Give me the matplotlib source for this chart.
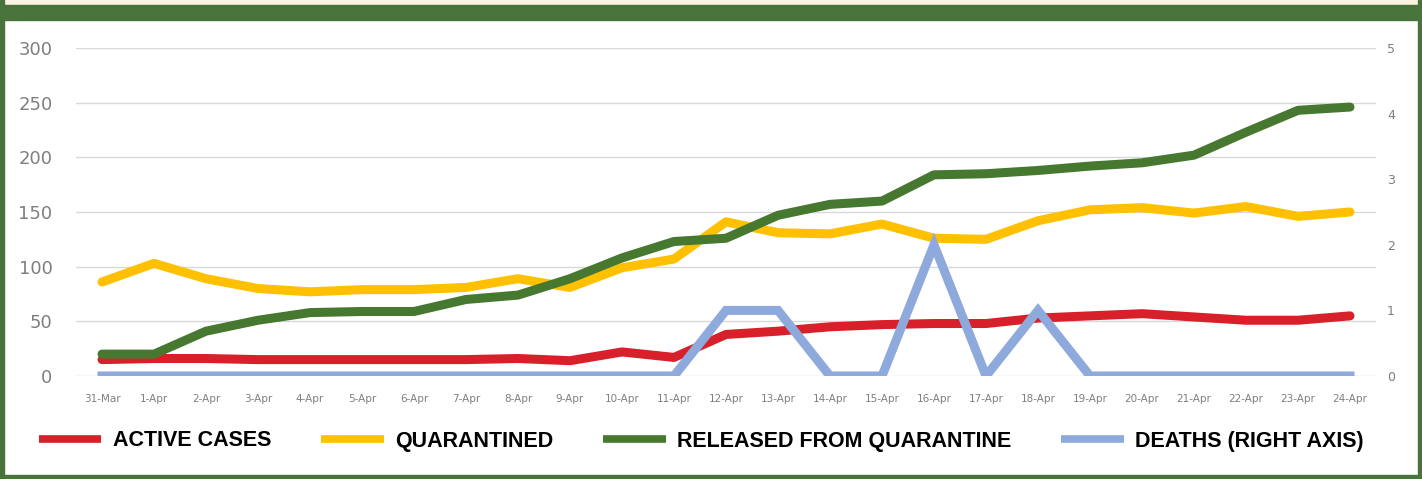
import numpy as np
import matplotlib.pyplot as plt
from matplotlib.patches import Rectangle

dates = ['31-Mar', '1-Apr', '2-Apr', '3-Apr', '4-Apr', '5-Apr', '6-Apr', '7-Apr', '8-Apr',
         '9-Apr', '10-Apr', '11-Apr', '12-Apr', '13-Apr', '14-Apr', '15-Apr', '16-Apr',
         '17-Apr', '18-Apr', '19-Apr', '20-Apr', '21-Apr', '22-Apr', '23-Apr', '24-Apr']
active = [15, 16, 16, 15, 15, 15, 15, 15, 16, 14, 22, 17, 38, 41, 45, 47, 48,
          48, 53, 55, 57, 54, 51, 51, 55]
quarantined = [86, 103, 89, 80, 77, 79, 79, 81, 89, 81, 99, 107, 141, 131, 130, 139, 126,
               125, 142, 152, 154, 149, 155, 146, 150]
released = [20, 20, 41, 51, 58, 59, 59, 70, 74, 89, 108, 123, 126, 147, 157, 160, 184,
            185, 188, 192, 195, 202, 223, 243, 246]
deaths = [0, 0, 0, 0, 0, 0, 0, 0, 0, 0, 0, 0, 1, 1, 0, 0, 2, 0, 1, 0, 0, 0, 0, 0, 0]

RED = '#D7202A'
YELLOW = '#FFC000'
GREEN = '#47782F'
BLUE = '#8EA9DB'
FRAME = '#48733A'

W, H = 1422, 479
fig = plt.figure(figsize=(W / 100, H / 100), dpi=100)
fig.patch.set_facecolor('white')

# frame
fig.add_artist(Rectangle((0, (H - 5) / H), 1, 5 / H, transform=fig.transFigure,
                         color='#FDF3E2', zorder=0))
fig.add_artist(Rectangle((0, (H - 20) / H), 1, 15 / H, transform=fig.transFigure,
                         color=FRAME, zorder=0))
fig.add_artist(Rectangle((0, 0), 4 / W, 1, transform=fig.transFigure, color=FRAME, zorder=0))
fig.add_artist(Rectangle(((W - 4) / W, 0), 4 / W, 1, transform=fig.transFigure, color=FRAME, zorder=0))
fig.add_artist(Rectangle((0, 0), 1, 4 / H, transform=fig.transFigure, color=FRAME, zorder=0))

ax = fig.add_axes([76 / W, (H - 376) / H, 1300 / W, 328 / H])
x = np.arange(len(dates))
lw = 6.5
ax.plot(x, active, color=RED, lw=lw, solid_joinstyle='round', solid_capstyle='round',
        label='ACTIVE CASES', zorder=3)
ax.plot(x, quarantined, color=YELLOW, lw=lw, solid_joinstyle='round', solid_capstyle='round',
        label='QUARANTINED', zorder=3)
ax.plot(x, released, color=GREEN, lw=lw, solid_joinstyle='round', solid_capstyle='round',
        label='RELEASED FROM QUARANTINE', zorder=3)

ax.set_xlim(-0.5, len(dates) - 0.5)
ax.set_ylim(0, 300)
ax.set_yticks(range(0, 301, 50))
ax.grid(axis='y', color='#D9D9D9', lw=1)
ax.set_axisbelow(True)
for s in ax.spines.values():
    s.set_visible(False)
ax.set_xticks(x)
ax.set_xticklabels(dates, fontsize=7.5, color='#7F7F7F')
ax.tick_params(axis='x', length=0, pad=13)
ax.tick_params(axis='y', length=0, pad=17, labelsize=13, labelcolor='#7F7F7F')

ax2 = ax.twinx()
ax2.plot(x, deaths, color=BLUE, lw=lw, solid_joinstyle='miter', label='DEATHS (RIGHT AXIS)',
         zorder=3)
ax2.set_ylim(0, 5)
ax2.set_yticks(range(0, 6))
for s in ax2.spines.values():
    s.set_visible(False)
ax2.tick_params(axis='y', length=0, pad=8, labelsize=9, labelcolor='#7F7F7F')

h1, l1 = ax.get_legend_handles_labels()
h2, l2 = ax2.get_legend_handles_labels()
leg = fig.legend(h1 + h2, l1 + l2, loc='center left', bbox_to_anchor=(39 / W, 38 / H),
                 ncol=4, frameon=False, borderpad=0, borderaxespad=0,
                 handlelength=2.9, handletextpad=0.55, columnspacing=2.3,
                 prop={'family': 'Liberation Sans', 'weight': 'bold', 'size': 15.5})
for line in leg.get_lines():
    line.set_solid_capstyle('butt')
    line.set_linewidth(5.5)

fig.savefig('out.png', dpi=100)
